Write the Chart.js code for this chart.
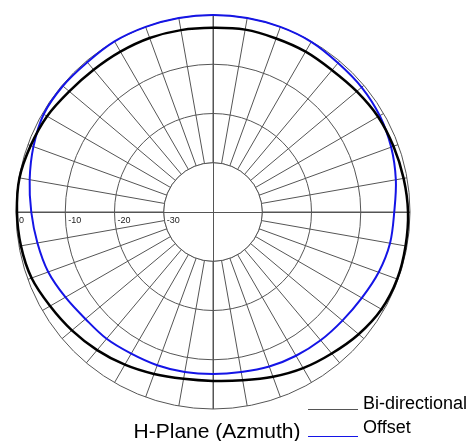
<!DOCTYPE html>
<html>
<head>
<meta charset="utf-8">
<script src="https://cdn.jsdelivr.net/npm/chart.js@4/dist/chart.umd.min.js"></script>
<style>
    body { margin: 0; background: #fff; }
    #wrap { width: 470px; height: 441px; }
</style>
</head>
<body>
<div id="wrap"><canvas id="pattern" width="470" height="441"></canvas></div>
<script>
// Azimuth angles (deg, clockwise from top)
const ANGLES = [
    '0', '10', '20', '30', '40', '50', '60', '70', '80',
    '90', '100', '110', '120', '130', '140', '150', '160', '170',
    '180', '190', '200', '210', '220', '230', '240', '250', '260',
    '270', '280', '290', '300', '310', '320', '330', '340', '350'
];

// Gain in dB
const BI_DIRECTIONAL = [
    -2.6, -2.4, -2.5, -2.4, -2.4, -1.9, -1.3, -1.0, -0.7,
    -0.4, -0.3, -0.2, -0.5, -1.4, -2.5, -3.4, -4.4, -5.3,
    -5.7, -5.6, -5.0, -4.2, -3.4, -2.6, -1.8, -0.8, -0.4,
    -0.2, -0.1, -0.6, -1.1, -1.9, -2.3, -2.4, -2.4, -2.5
];
const OFFSET = [
    0.0, 0.0, 0.0, -0.1, -0.5, -0.6, -0.9, -1.5, -2.3,
    -3.2, -3.5, -4.2, -5.1, -5.7, -6.0, -6.3, -6.6, -7.0,
    -7.1, -7.0, -6.9, -6.8, -6.4, -6.2, -5.4, -4.4, -3.8,
    -3.1, -2.2, -1.2, -0.3, -0.2, -0.3, 0.0, 0.0, 0.0
];

// Radial ticks
const TICK_VALUES = [0, -10, -20, -30];
const TICK_LABELS = ['0', '-10', '-20', '-30'];

const TITLE = 'H-Plane (Azmuth)';

const GRID  = '#555555';
const BLACK = '#000000';
const BLUE  = '#1414e6';

// white hub inside the -30 ring, with the two axes running through it
const hub = {
    id: 'hub',
    beforeDatasetsDraw(chart) {
        const s = chart.scales.r;
        const ctx = chart.ctx;
        const cx = s.xCenter, cy = s.yCenter;
        const r0 = s.getDistanceFromCenterForValue(-30);
        const R = s.drawingArea;
        ctx.save();
        ctx.fillStyle = '#fff';
        ctx.beginPath();
        ctx.arc(cx, cy, r0, 0, Math.PI * 2);
        ctx.fill();
        ctx.strokeStyle = GRID;
        ctx.lineWidth = 1;
        ctx.stroke();
        ctx.beginPath();
        ctx.moveTo(cx - R, cy + 0.5);
        ctx.lineTo(cx + R, cy + 0.5);
        ctx.moveTo(cx + 0.5, cy - R);
        ctx.lineTo(cx + 0.5, cy + R);
        ctx.stroke();

        ctx.fillStyle = '#222';
        ctx.font = '9px "Liberation Sans", Arial, sans-serif';
        ctx.textBaseline = 'top';
        TICK_VALUES.forEach((v, i) => {
            const d = s.getDistanceFromCenterForValue(v);
            ctx.fillText(TICK_LABELS[i], cx - d + 3, cy + 4);
        });
        ctx.restore();
    },
    afterDraw(chart) {
        const ctx = chart.ctx;
        const ds = chart.data.datasets;
        ctx.save();
        ctx.fillStyle = '#000';
        ctx.font = '18px "Liberation Sans", Arial, sans-serif';
        ctx.textBaseline = 'alphabetic';
        const swatch = ['#555555', BLUE];
        const rows = [409, 433];
        ds.forEach((d, i) => {
            ctx.strokeStyle = swatch[i];
            ctx.lineWidth = 1;
            ctx.beginPath();
            ctx.moveTo(308, rows[i] + 0.5 + i * 3);
            ctx.lineTo(358, rows[i] + 0.5 + i * 3);
            ctx.stroke();
            ctx.fillText(d.label, 363, rows[i]);
        });
        ctx.font = '21px "Liberation Sans", Arial, sans-serif';
        ctx.textAlign = 'center';
        ctx.fillText(TITLE, 217, 438);
        ctx.restore();
    }
};

window.onload = () => {
    new Chart(document.getElementById('pattern'), {
        type: 'radar',
        data: {
            labels: ANGLES,
            datasets: [
                {
                    label: 'Bi-directional',
                    data: BI_DIRECTIONAL,
                    borderColor: BLACK,
                    borderWidth: 2.5,
                    fill: false,
                    pointRadius: 0,
                    tension: 0.35
                },
                {
                    label: 'Offset',
                    data: OFFSET,
                    borderColor: BLUE,
                    borderWidth: 2,
                    fill: false,
                    pointRadius: 0,
                    tension: 0.35
                }
            ]
        },
        options: {
            responsive: false,
            animation: false,
            layout: { padding: { left: 16, top: 15, right: 59, bottom: 32 } },
            plugins: {
                legend: { display: false },
                title: { display: false },
                tooltip: { enabled: false }
            },
            scales: {
                r: {
                    min: -40,
                    max: 0,
                    startAngle: 0,
                    ticks: { display: false, stepSize: 10 },
                    pointLabels: { display: false },
                    grid: { circular: true, color: GRID, lineWidth: 1 },
                    angleLines: { color: GRID, lineWidth: 1 }
                }
            },
            elements: { line: { borderJoinStyle: 'round' } }
        },
        plugins: [hub]
    });
};
</script>
</body>
</html>
